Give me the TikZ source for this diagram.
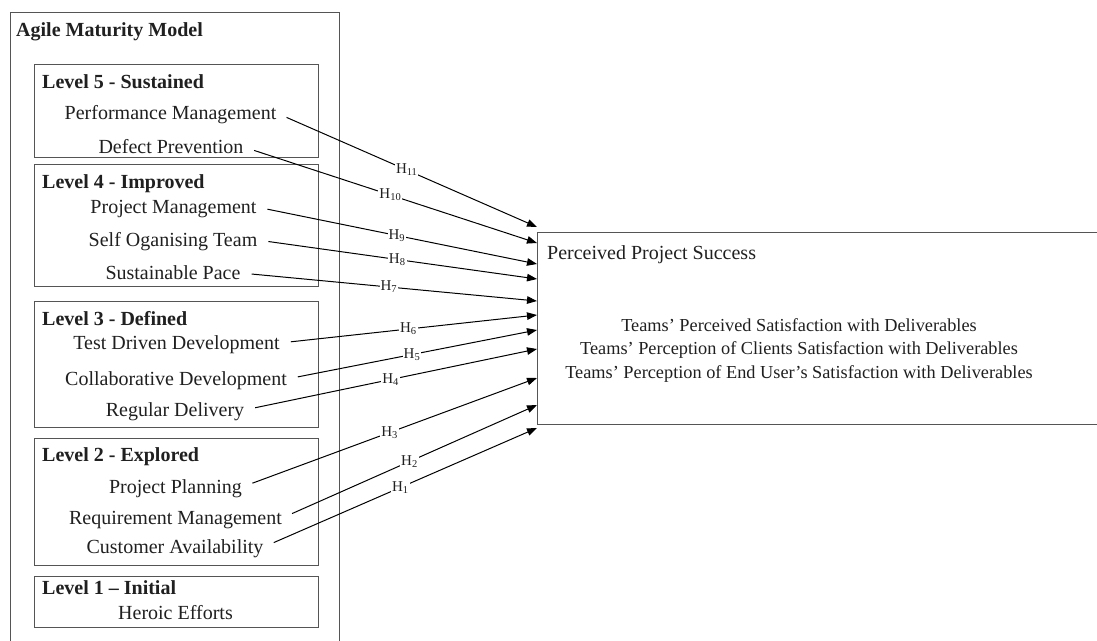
\documentclass[tikz,border=0pt]{standalone}
\usepackage{fontspec}
\setmainfont{Liberation Serif}
\usetikzlibrary{arrows.meta}
\definecolor{ink}{HTML}{202020}
\definecolor{frame}{HTML}{555555}
\begin{document}
\begin{tikzpicture}[x=1pt,y=-1pt,
  box/.style={draw=frame,line width=1.3pt,anchor=north west,inner sep=0pt},
  % text is placed by its visual middle: the baseline sits 6pt lower
  heading/.style={anchor=base west,yshift=-6pt,font=\fontsize{20}{22}\selectfont\bfseries,text=ink,inner sep=0pt},
  item/.style={anchor=base,yshift=-6pt,font=\fontsize{20}{22}\selectfont,text=ink,inner sep=0pt},
  outcome/.style={item,yshift=0.5pt,font=\fontsize{18.3}{20}\selectfont},
  link/.style={-{Triangle[length=10pt,width=7.5pt]},line width=1pt,draw=black,shorten <=11pt},
  hyp/.style={fill=white,inner sep=1pt,font=\fontsize{15}{16}\selectfont,text=ink}]
\useasboundingbox (0,0) rectangle (1097,640);
\clip (0,0) rectangle (1097,640);
\fill[white] (0,0) rectangle (1097,640);

% Agile maturity model and its levels
\node[box,line width=1pt,minimum width=329pt,minimum height=660pt] (amm) at (10,12) {};
\node[heading] (ammt) at (16,30) {Agile Maturity Model};

\node[box,minimum width=284pt,minimum height=93pt]  (lv5) at (34,64)  {};
\node[box,minimum width=284pt,minimum height=122pt] (lv4) at (34,164) {};
\node[box,minimum width=284pt,minimum height=126pt] (lv3) at (34,301) {};
\node[box,minimum width=284pt,minimum height=127pt] (lv2) at (34,438) {};
\node[box,minimum width=284pt,minimum height=51pt]  (lv1) at (34,576) {};

\node[heading] (h5) at (42,82)  {Level 5 - Sustained};
\node[heading] (h4) at (42,182) {Level 4 - Improved};
\node[heading] (h3) at (42,319) {Level 3 - Defined};
\node[heading] (h2) at (42,455) {Level 2 - Explored};
\node[heading] (h1) at (42,588) {Level 1 – Initial};

\node[item] (pm)  at (170.5,113) {Performance Management};
\node[item] (dp)  at (171,147)   {Defect Prevention};
\node[item] (prm) at (173.5,207) {Project Management};
\node[item] (sot) at (173,240)   {Self Oganising Team};
\node[item] (sp)  at (173,273)   {Sustainable Pace};
\node[item] (tdd) at (176.5,343) {Test Driven Development};
\node[item] (cd)  at (176,379)   {Collaborative Development};
\node[item] (rd)  at (175,410)   {Regular Delivery};
\node[item] (pp)  at (175.5,487) {Project Planning};
\node[item] (rm)  at (175.5,518) {Requirement Management};
\node[item] (ca)  at (175,547)   {Customer Availability};
\node[item] (he)  at (175.5,613) {Heroic Efforts};

% Perceived project success
\node[box,minimum width=600pt,minimum height=192pt] (pps) at (537,232) {};
\node[heading,font=\fontsize{20}{22}\selectfont] (ppst) at (547,253) {Perceived Project Success};
\node[outcome] (s1) at (799,326) {Teams’ Perceived Satisfaction with Deliverables};
\node[outcome] (s2) at (799,349) {Teams’ Perception of Clients Satisfaction with Deliverables};
\node[outcome] (s3) at (799,373) {Teams’ Perception of End User’s Satisfaction with Deliverables};

% arrow targets on the left side of the success box
\coordinate (t11) at (537,227);
\coordinate (t10) at (537,243);
\coordinate (t9)  at (537,264);
\coordinate (t8)  at (537,279);
\coordinate (t7)  at (537,301);
\coordinate (t6)  at (537,315);
\coordinate (t5)  at (537,330);
\coordinate (t4)  at (537,349);
\coordinate (t3)  at (537,378);
\coordinate (t2)  at (537,405);
\coordinate (t1)  at (537,428);

% hypotheses, each leaving its practice at mid-text height
\draw[link] ([yshift=6pt]pm.base east)  -- node[hyp] {H\textsubscript{11}} (t11);
\draw[link] ([yshift=6pt]dp.base east)  -- node[hyp] {H\textsubscript{10}} (t10);
\draw[link] ([yshift=6pt]prm.base east) -- node[hyp] {H\textsubscript{9}}  (t9);
\draw[link] ([yshift=6pt]sot.base east) -- node[hyp] {H\textsubscript{8}}  (t8);
\draw[link] ([yshift=6pt]sp.base east)  -- node[hyp] {H\textsubscript{7}}  (t7);
\draw[link] ([yshift=6pt]tdd.base east) -- node[hyp] {H\textsubscript{6}}  (t6);
\draw[link] ([yshift=6pt]cd.base east)  -- node[hyp] {H\textsubscript{5}}  (t5);
\draw[link] ([yshift=6pt]rd.base east)  -- node[hyp] {H\textsubscript{4}}  (t4);
\draw[link] ([yshift=6pt]pp.base east)  -- node[hyp] {H\textsubscript{3}}  (t3);
\draw[link] ([yshift=6pt]rm.base east)  -- node[hyp] {H\textsubscript{2}}  (t2);
\draw[link] ([yshift=6pt]ca.base east)  -- node[hyp] {H\textsubscript{1}}  (t1);
\end{tikzpicture}
\end{document}
